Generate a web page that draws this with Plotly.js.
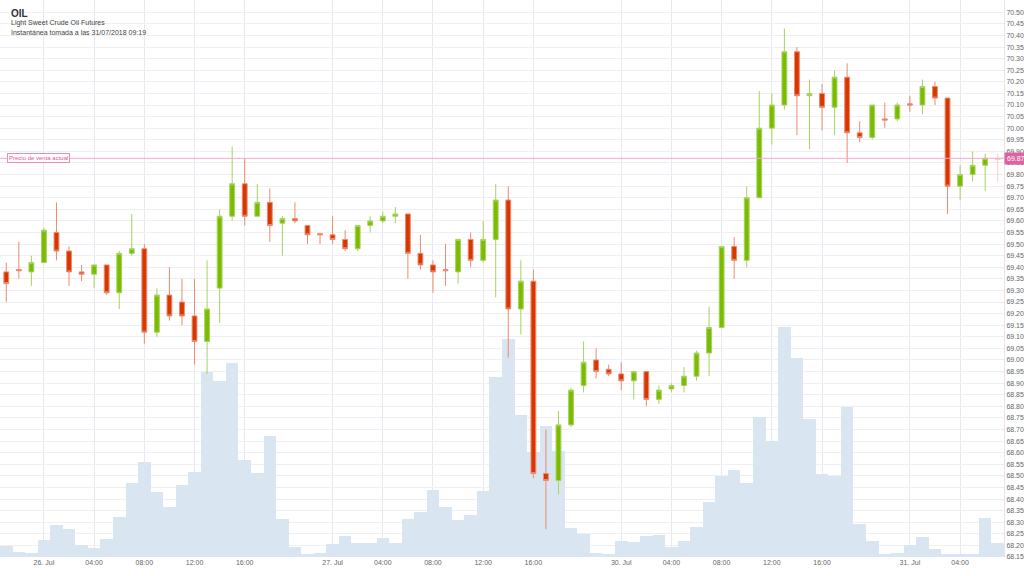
<!DOCTYPE html>
<html><head><meta charset="utf-8">
<script src="https://cdn.plot.ly/plotly-3.0.1.min.js"></script>
<style>html,body{margin:0;padding:0;background:#fff}#chart{width:1024px;height:576px}</style>
</head><body><div id="chart"></div>
<script>
// ---- data (hourly candles, gaps in trading hours are not shown) ----
const times = [
"25.07 20:00","25.07 22:00","25.07 23:00",
"26.07 00:00","26.07 01:00","26.07 02:00","26.07 03:00","26.07 04:00","26.07 05:00","26.07 06:00","26.07 07:00",
"26.07 08:00","26.07 09:00","26.07 10:00","26.07 11:00","26.07 12:00","26.07 13:00","26.07 14:00","26.07 15:00",
"26.07 16:00","26.07 17:00","26.07 18:00","26.07 19:00","26.07 20:00","26.07 22:00","26.07 23:00",
"27.07 00:00","27.07 01:00","27.07 02:00","27.07 03:00","27.07 04:00","27.07 05:00","27.07 06:00","27.07 07:00",
"27.07 08:00","27.07 09:00","27.07 10:00","27.07 11:00","27.07 12:00","27.07 13:00","27.07 14:00","27.07 15:00",
"27.07 16:00","27.07 17:00","27.07 18:00","27.07 19:00","27.07 20:00","29.07 22:00","29.07 23:00",
"30.07 00:00","30.07 01:00","30.07 02:00","30.07 03:00","30.07 04:00","30.07 05:00","30.07 06:00","30.07 07:00",
"30.07 08:00","30.07 09:00","30.07 10:00","30.07 11:00","30.07 12:00","30.07 13:00","30.07 14:00","30.07 15:00",
"30.07 16:00","30.07 17:00","30.07 18:00","30.07 19:00","30.07 20:00","30.07 22:00","30.07 23:00",
"31.07 00:00","31.07 01:00","31.07 02:00","31.07 03:00","31.07 04:00","31.07 05:00","31.07 06:00","31.07 07:00"
];
const openP = [
69.38,69.39,69.38,69.42,69.55,69.47,69.38,69.37,69.41,69.29,
69.46,69.48,69.12,69.28,69.25,69.19,69.08,69.31,69.62,69.76,
69.62,69.68,69.59,69.61,69.58,69.545,69.54,69.52,69.48,69.58,
69.60,69.62,69.63,69.46,69.41,69.39,69.38,69.52,69.43,69.52,
69.69,69.22,69.34,68.51,68.48,68.72,68.89,69.00,68.96,68.94,
68.91,68.95,68.83,68.875,68.89,68.93,69.03,69.14,69.49,69.43,
69.70,70.00,70.10,70.33,70.14,70.15,70.09,70.22,69.98,69.96,
70.04,70.04,70.105,70.10,70.18,70.13,69.75,69.80,69.84,69.87
];
const highP = [
69.42,69.51,69.45,69.57,69.68,69.49,69.41,69.41,69.41,69.47,
69.63,69.50,69.31,69.40,69.35,69.35,69.43,69.65,69.92,69.87,
69.76,69.74,69.62,69.68,69.58,69.545,69.62,69.56,69.58,69.62,
69.64,69.66,69.63,69.54,69.43,69.50,69.52,69.55,69.60,69.76,
69.75,69.43,69.39,68.70,68.78,68.88,69.08,69.05,68.98,68.99,
68.95,68.95,68.89,68.90,68.97,69.04,69.23,69.49,69.53,69.75,
70.16,70.15,70.43,70.35,70.21,70.19,70.25,70.28,70.03,70.10,
70.11,70.11,70.14,70.21,70.20,70.13,69.84,69.90,69.89,69.89
];
const lowP = [
69.25,69.35,69.32,69.42,69.43,69.32,69.34,69.31,69.28,69.22,
69.45,69.07,69.10,69.17,69.15,68.98,68.94,69.16,69.60,69.58,
69.62,69.51,69.45,69.59,69.50,69.50,69.50,69.47,69.47,69.55,
69.59,69.59,69.35,69.39,69.29,69.32,69.33,69.40,69.42,69.27,
69.01,69.11,68.49,68.27,68.42,68.71,68.86,68.92,68.93,68.87,
68.83,68.80,68.81,68.86,68.86,68.91,68.93,69.14,69.35,69.40,
69.70,69.93,70.08,69.97,69.91,69.99,69.97,69.85,69.94,69.95,
70.00,70.03,70.07,70.06,70.10,69.63,69.69,69.77,69.73,69.77
];
const closeP = [
69.33,69.385,69.42,69.56,69.47,69.38,69.37,69.41,69.29,69.46,
69.48,69.12,69.28,69.19,69.19,69.08,69.22,69.62,69.76,69.62,
69.68,69.58,69.61,69.60,69.54,69.54,69.52,69.48,69.58,69.60,
69.62,69.63,69.46,69.41,69.38,69.385,69.52,69.43,69.52,69.69,
69.22,69.34,68.51,68.48,68.72,68.87,68.99,68.95,68.94,68.91,
68.95,68.83,68.87,68.89,68.93,69.03,69.14,69.49,69.43,69.70,
70.00,70.10,70.33,70.14,70.15,70.09,70.22,69.98,69.96,70.10,
70.035,70.10,70.10,70.18,70.13,69.75,69.80,69.84,69.87,69.865
];
const volume = [
34,16,13,52,97,84,35,28,54,120,
222,285,195,151,216,256,556,529,581,292,
253,363,114,30,10,13,38,62,43,43,
57,42,115,136,201,151,110,126,199,541,
654,427,316,392,318,88,70,12,10,49,
46,62,65,31,49,91,164,242,261,221,
420,349,691,597,415,250,244,449,100,47,
8,13,35,61,25,10,10,8,117,43
];
const tickTimes = ["26.07 00:00","26.07 04:00","26.07 08:00","26.07 12:00","26.07 16:00",
  "27.07 00:00","27.07 04:00","27.07 08:00","27.07 12:00","27.07 16:00",
  "30.07 00:00","30.07 04:00","30.07 08:00","30.07 12:00","30.07 16:00",
  "31.07 00:00","31.07 04:00"];
const tickLabels = ["26. Jul","04:00","08:00","12:00","16:00",
  "27. Jul","04:00","08:00","12:00","16:00",
  "30. Jul","04:00","08:00","12:00","16:00",
  "31. Jul","04:00"];
const currentPrice = 69.87;
const currentLabel = "Precio de venta actual";
const symbol = "OIL";
const subtitle1 = "Light Sweet Crude Oil Futures";
const subtitle2 = "Instantánea tomada a las 31/07/2018 09:19";

// ---- styling ----
const FONT = "Liberation Sans, Arial, sans-serif";
const live = times.length - 1; // last (still forming) candle drawn faded

const incStyle = {line:{color:'#a6d35f', width:1}, fillcolor:'#7bbb00'};
const decStyle = {line:{color:'#ec8b70', width:1}, fillcolor:'#d83700'};

const traces = [
  {type:'bar', x:times, y:volume, xaxis:'x', yaxis:'y',
   marker:{color:'#d9e6f1', line:{width:0}}, hoverinfo:'none', showlegend:false},
  {type:'candlestick', x:times.slice(0, live), open:openP.slice(0, live), high:highP.slice(0, live),
   low:lowP.slice(0, live), close:closeP.slice(0, live), xaxis:'x', yaxis:'y2',
   increasing:incStyle, decreasing:decStyle, whiskerwidth:0, hoverinfo:'none', showlegend:false},
  {type:'candlestick', x:times.slice(live), open:openP.slice(live), high:highP.slice(live),
   low:lowP.slice(live), close:closeP.slice(live), xaxis:'x', yaxis:'y2', opacity:0.4,
   increasing:incStyle, decreasing:decStyle, whiskerwidth:0, hoverinfo:'none', showlegend:false}
];

const layout = {
  width:1024, height:576,
  margin:{l:0, r:20, t:0, b:19},
  paper_bgcolor:'#ffffff', plot_bgcolor:'#ffffff',
  font:{family:FONT, color:'#666666'},
  showlegend:false, bargap:0, boxgap:0.45,
  xaxis:{type:'category', categoryorder:'array', categoryarray:times,
    range:[-0.5, times.length - 0.5], rangeslider:{visible:false},
    tickvals:tickTimes, ticktext:tickLabels, tickangle:0,
    showgrid:true, gridcolor:'#e8e8f3', gridwidth:1, zeroline:false, showline:false,
    ticks:'', tickfont:{size:7, color:'#666666', family:FONT}, fixedrange:true},
  yaxis:{range:[0, 1672], visible:false, showgrid:false, fixedrange:true},
  yaxis2:{overlaying:'y', side:'right', range:[68.15, 70.553], tick0:68.15, dtick:0.05,
    tickformat:'.2f', showgrid:true, gridcolor:'#efeff3', gridwidth:1, zeroline:false,
    showline:true, linecolor:'#e4e4ea', linewidth:1, ticks:'',
    tickfont:{size:7, color:'#666666', family:FONT}, fixedrange:true},
  shapes:[
    {type:'line', xref:'paper', x0:0, x1:1, yref:'y2', y0:currentPrice, y1:currentPrice,
     line:{color:'#f3a9d0', width:1}, layer:'above'}
  ],
  annotations:[
    {xref:'paper', yref:'paper', x:0, y:1, xanchor:'left', yanchor:'top', xshift:9, yshift:-6,
     text:'<b>'+symbol+'</b>', showarrow:false, font:{size:10, color:'#333333', family:FONT}},
    {xref:'paper', yref:'paper', x:0, y:1, xanchor:'left', yanchor:'top', xshift:9, yshift:-17,
     text:subtitle1, showarrow:false, font:{size:7, color:'#444444', family:FONT}},
    {xref:'paper', yref:'paper', x:0, y:1, xanchor:'left', yanchor:'top', xshift:9, yshift:-27,
     text:subtitle2, showarrow:false, font:{size:7, color:'#444444', family:FONT}},
    {xref:'paper', yref:'y2', x:0, y:currentPrice, xanchor:'left', yanchor:'middle', xshift:7,
     text:currentLabel, showarrow:false, bgcolor:'#ffffff', bordercolor:'#e98dbd', borderwidth:1,
     borderpad:1, font:{size:6, color:'#e0559c', family:FONT}},
    {xref:'paper', yref:'y2', x:1, y:currentPrice, xanchor:'left', yanchor:'middle', xshift:0,
     text:currentPrice.toFixed(2), showarrow:false, bgcolor:'#e0619f', borderpad:2,
     font:{size:7, color:'#ffffff', family:FONT}}
  ]
};

Plotly.newPlot('chart', traces, layout, {staticPlot:true, displayModeBar:false});
</script>
</body></html>
